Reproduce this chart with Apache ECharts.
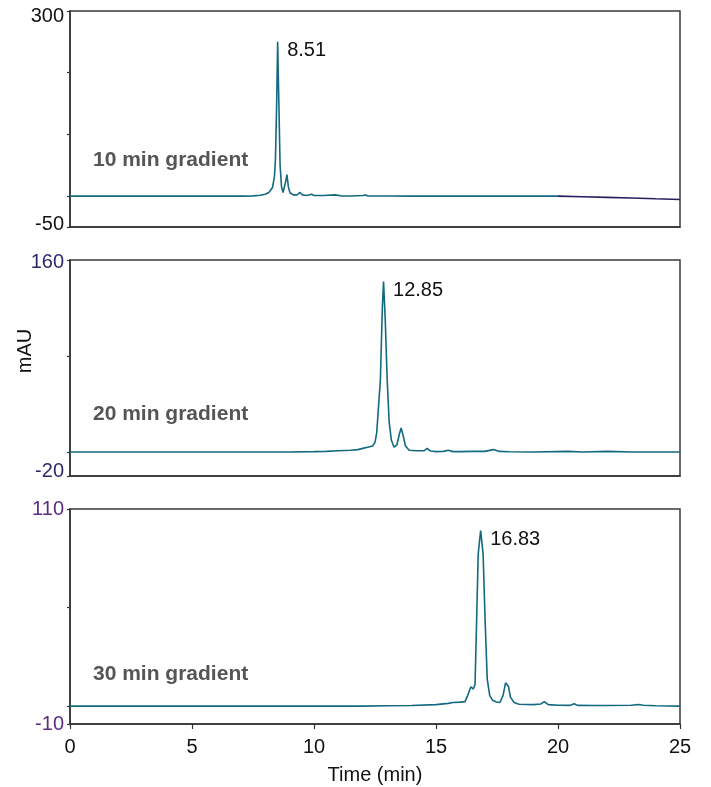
<!DOCTYPE html>
<html>
<head>
<meta charset="utf-8">
<script src="https://cdn.jsdelivr.net/npm/echarts@6/dist/echarts.min.js"></script>
<style>
html,body{margin:0;padding:0;background:#fff;}
#c{width:711px;height:787px;}
</style>
</head>
<body>
<div id="c"></div>
<script>
// ---- data ----
var panelTitles = ['10 min gradient', '20 min gradient', '30 min gradient'];
var peakLabels = ['8.51', '12.85', '16.83'];
var peakTimes = [8.51, 12.85, 16.83];
var peakValues = [250, 142, 98];
var yMins = [-50, -20, -10];
var yMaxs = [300, 160, 110];
var yTicks10 = [-50, 0, 100, 200, 300];
var yTicks20 = [-20, 0, 80, 160];
var yTicks30 = [-10, 0, 55, 110];
var xTicks = [0, 5, 10, 15, 20, 25];

var t10 = [0,1,2,3,4,5,6,7,7.5,7.8,8.0,8.15,8.3,8.38,8.42,8.47,8.51,8.56,8.61,8.67,8.73,8.78,8.84,8.89,8.95,9.02,9.15,9.3,9.43,9.52,9.7,9.9,10.0,10.4,10.86,11.1,11.5,12.0,12.1,12.2,13,14,15,16,17,18,19,20];
var y10 = [0,0,0.3,0,0,0,0.3,0,0.5,1.5,3,6,14,32,60,150,250,150,50,15,6,8,24,35,15,5,2,2,6,2,1,3,1,1,2,0.5,0.3,1,2,0.5,0.2,0,0.3,0,0,0,0,0];
var t10tail = [20,21,22,23,24,25];
var y10tail = [0,-1,-2,-3,-4.3,-5.5];

var t20 = [0,2,4,6,8,9,10,10.5,11,11.5,11.8,12.0,12.2,12.4,12.5,12.57,12.65,12.72,12.8,12.85,12.92,13.0,13.08,13.17,13.28,13.4,13.5,13.57,13.65,13.75,13.9,14.2,14.5,14.64,14.78,15.0,15.3,15.5,15.7,16,16.5,17.0,17.35,17.6,18,19,20.4,21,22.05,23,24,25];
var y20 = [0,0,0,0,0,0,0.3,0.5,1,1.5,2,3,4,5,8,16,17,60,120,142,110,60,25,10,4,6,15,20,14,5,1.5,1,1,3,0.8,0.3,0.5,1.5,0.3,0.3,0.5,0.5,2,0.5,0.2,0,0.5,0,0.5,0,0,0];

var t30 = [0,2,4,6,8,10,12,13,14,15,15.5,15.7,16.0,16.19,16.3,16.43,16.53,16.6,16.66,16.73,16.83,16.93,17.02,17.1,17.2,17.32,17.47,17.62,17.75,17.85,17.9,17.97,18.05,18.2,18.4,19.0,19.3,19.44,19.6,20,20.5,20.66,20.8,21.5,22,23,23.3,23.5,24,25];
var y30 = [0,0,0,0,0,0,0,0.2,0.3,0.8,1.5,2,2.2,2.5,6,10.8,9.5,12,45,85,98,85,45,15,6,3.2,2.3,2,6,13,14,11,5,2,1,0.8,1.2,2.5,0.8,0.5,0.4,1.3,0.4,0.3,0.3,0.5,0.9,0.5,0.2,0];

function zip(a, b){ return a.map(function(v,i){ return [v, b[i]]; }); }

var FONT = '"Liberation Sans", Arial, Helvetica, sans-serif';
var TEAL = '#13697f';
var NAVY = '#26205e';
var labelColors = ['#111111', '#2d2a6a', '#5b2c80'];
var yTickSets = [yTicks10, yTicks20, yTicks30];
// vertical nudges (px) of min / max tick labels, as seen in the reference
var maxNudge = [10, 5, 0];
var minNudge = [6, 9, 0];

var grids = [
  {left:70, top:11, width:610, height:216},
  {left:70, top:260, width:610, height:216},
  {left:70, top:509, width:610, height:215}
];
grids.forEach(function(g){
  g.show = true; g.borderColor = '#3a3a3a'; g.borderWidth = 1.5; g.backgroundColor = 'transparent';
  g.containLabel = false; g.outerBoundsMode = 'none';
});

var xAxes = [0,1,2].map(function(i){
  var bottom = (i === 2);
  return {
    type:'value', gridIndex:i, min:0, max:25, interval:5,
    axisLine:{show:true, onZero:false, lineStyle:{color:'#333', width:1.5}},
    axisTick:{show:bottom, length:5, lineStyle:{color:'#333', width:1.2}},
    axisLabel:{show:bottom, fontSize:20, color:'#111', fontFamily:FONT, margin:13},
    splitLine:{show:false},
    name: bottom ? 'Time (min)' : '',
    nameLocation:'middle', nameGap:41,
    nameTextStyle:{fontSize:20, color:'#111', fontFamily:FONT}
  };
});

var yAxes = [0,1,2].map(function(i){
  var base = {fontSize:20, color:labelColors[i], fontFamily:FONT};
  return {
    type:'value', gridIndex:i, min:yMins[i], max:yMaxs[i],
    axisLine:{show:true, onZero:false, lineStyle:{color:'#333', width:1.5}},
    axisTick:{show:true, length:3, customValues: yTickSets[i], lineStyle:{color:'#333', width:1.2}},
    axisLabel:{show:true, fontSize:20, color:labelColors[i], fontFamily:FONT, margin:6,
      customValues:[yMins[i], yMaxs[i]],
      formatter:function(v){ return v === yMaxs[i] ? '{hi|' + v + '}' : '{lo|' + v + '}'; },
      rich:{
        hi:Object.assign({padding:[maxNudge[i],0,0,0]}, base),
        lo:Object.assign({padding:[0,0,minNudge[i],0]}, base)
      }},
    splitLine:{show:false}
  };
});

function peakMark(i){
  return {
    symbol:'none',
    label:{show:true, position:'right', formatter:peakLabels[i], fontSize:20, color:'#111',
      fontFamily:FONT, offset:[4, 9]},
    data:[{coord:[peakTimes[i], peakValues[i]], symbol:'circle', symbolSize:1, itemStyle:{color:'rgba(0,0,0,0)'}}]
  };
}

var series = [
  {type:'line', xAxisIndex:0, yAxisIndex:0, data:zip(t10, y10), showSymbol:false, symbol:'none',
   lineStyle:{color:TEAL, width:1.6}, markPoint:peakMark(0), silent:true, animation:false},
  {type:'line', xAxisIndex:0, yAxisIndex:0, data:zip(t10tail, y10tail), showSymbol:false, symbol:'none',
   lineStyle:{color:NAVY, width:1.6}, silent:true, animation:false},
  {type:'line', xAxisIndex:1, yAxisIndex:1, data:zip(t20, y20), showSymbol:false, symbol:'none',
   lineStyle:{color:TEAL, width:1.6}, markPoint:peakMark(1), silent:true, animation:false},
  {type:'line', xAxisIndex:2, yAxisIndex:2, data:zip(t30, y30), showSymbol:false, symbol:'none',
   lineStyle:{color:TEAL, width:1.6}, markPoint:peakMark(2), silent:true, animation:false}
];

var titleTops = [150, 404, 664];
var graphics = panelTitles.map(function(t, i){
  return {type:'text', left:93, top:titleTops[i],
    style:{text:t, fill:'#555555', font:'bold 21px ' + FONT}};
});
graphics.push({type:'text', x:25, y:351, rotation:Math.PI/2,
  style:{text:'mAU', font:'20px ' + FONT, fill:'#111', textAlign:'center', textVerticalAlign:'middle'}});

var chart = echarts.init(document.getElementById('c'), null, {renderer:'canvas'});
chart.setOption({
  animation:false,
  backgroundColor:'#ffffff',
  grid:grids, xAxis:xAxes, yAxis:yAxes, series:series, graphic:graphics
});
</script>
</body>
</html>
